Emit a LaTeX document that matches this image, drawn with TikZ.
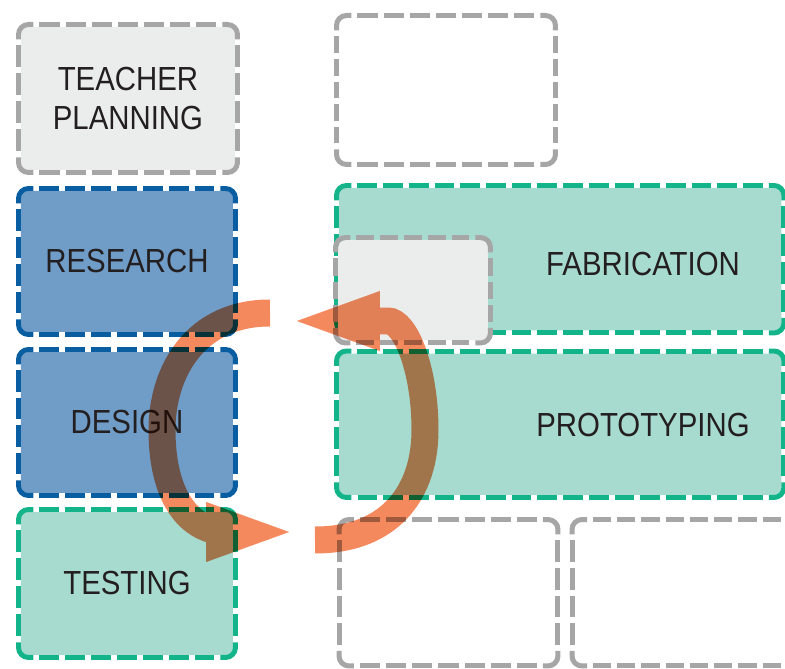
\documentclass[tikz,border=0pt]{standalone}
\usepackage{fontspec}
\setmainfont{Liberation Sans}[FakeStretch=0.88]
\usetikzlibrary{arrows.meta}
\definecolor{graybd}{RGB}{166,166,166}
\definecolor{grayfill}{RGB}{235,237,236}
\definecolor{bluefill}{RGB}{112,156,200}
\definecolor{bluebd}{RGB}{8,94,160}
\definecolor{tealfill}{RGB}{168,219,207}
\definecolor{tealbd}{RGB}{19,180,138}
\definecolor{arrowc}{RGB}{245,137,94}
\definecolor{txt}{RGB}{35,31,32}
\pgfdeclarelayer{bg}
\pgfsetlayers{bg,main}
% fill and dashed border (solid corners) of a box node: name, border, fill, width (cm), height (cm)
\newcommand\boxdeco[5]{%
\pgfmathsetmacro\bxhn{max(1,round((#4-0.72)/0.5))}%
\pgfmathsetmacro\bxhd{(#4-0.72)/\bxhn-0.12}%
\pgfmathsetmacro\bxvn{max(1,round((#5-0.72)/0.5))}%
\pgfmathsetmacro\bxvd{(#5-0.72)/\bxvn-0.12}%
\begin{pgfonlayer}{bg}
\fill[#3, rounded corners=0.15cm] ([shift={(0.05cm,-0.05cm)}]#1.north west) rectangle ([shift={(-0.05cm,0.05cm)}]#1.south east);
\draw[bd, draw=#2, rounded corners=0.2cm] ([yshift=-0.3cm]#1.north west) -- (#1.north west) -- ([xshift=0.3cm]#1.north west);
\draw[bd, draw=#2, rounded corners=0.2cm] ([xshift=-0.3cm]#1.north east) -- (#1.north east) -- ([yshift=-0.3cm]#1.north east);
\draw[bd, draw=#2, rounded corners=0.2cm] ([yshift=0.3cm]#1.south east) -- (#1.south east) -- ([xshift=-0.3cm]#1.south east);
\draw[bd, draw=#2, rounded corners=0.2cm] ([xshift=0.3cm]#1.south west) -- (#1.south west) -- ([yshift=0.3cm]#1.south west);
\draw[bd, draw=#2, dash pattern=on \bxhd cm off 0.12cm] ([xshift=0.42cm]#1.north west) -- ([xshift=-0.42cm]#1.north east);
\draw[bd, draw=#2, dash pattern=on \bxvd cm off 0.12cm] ([yshift=-0.42cm]#1.north east) -- ([yshift=0.42cm]#1.south east);
\draw[bd, draw=#2, dash pattern=on \bxhd cm off 0.12cm] ([xshift=-0.42cm]#1.south east) -- ([xshift=0.42cm]#1.south west);
\draw[bd, draw=#2, dash pattern=on \bxvd cm off 0.12cm] ([yshift=0.42cm]#1.south west) -- ([yshift=-0.42cm]#1.north west);
\end{pgfonlayer}}
\begin{document}
\begin{tikzpicture}[x=0.02cm,y=-0.02cm,
  bd/.style={line width=0.1cm},
  box/.style={inner sep=0pt, outer sep=0pt, anchor=north west,
    font=\fontsize{19}{22}\selectfont, text=txt, align=center},
  lbl/.style={font=\fontsize{19}{22}\selectfont, text=txt, inner sep=0pt},
  cyc/.style={draw=arrowc, line width=0.54cm,
    -{Triangle[width=1.2cm, length=1.66cm, line width=0.1pt]}}
]
\useasboundingbox (0,0) rectangle (785,669);
\clip (0,0) rectangle (785,669);

% left column
\node[box, minimum width=4.38cm, minimum height=2.96cm] (plan) at (18.5,24.5) {TEACHER\\PLANNING};
\node[box, minimum width=4.34cm, minimum height=2.92cm] (research) at (18.5,188.5) {RESEARCH};
\node[box, minimum width=4.34cm, minimum height=2.92cm] (design) at (18.5,349.5) {DESIGN};
\node[box, minimum width=4.34cm, minimum height=2.96cm] (testing) at (18.5,509.5) {TESTING};
% right side
\node[box, minimum width=4.38cm, minimum height=2.98cm] (topr) at (336.5,15.5) {};
\node[box, minimum width=8.95cm, minimum height=2.95cm] (fab) at (336.5,185.5) {};
\node[box, minimum width=8.95cm, minimum height=2.93cm] (proto) at (336.5,351) {};
\node[box, minimum width=3.1cm, minimum height=2.11cm] (small) at (335.5,237.5) {};
\node[box, minimum width=4.38cm, minimum height=2.93cm] (botl) at (339,519.5) {};
\node[box, minimum width=4.6cm, minimum height=2.93cm] (botr) at (572,519.5) {};

\boxdeco{plan}{graybd}{grayfill}{4.38}{2.96}
\boxdeco{research}{bluebd}{bluefill}{4.34}{2.92}
\boxdeco{design}{bluebd}{bluefill}{4.34}{2.92}
\boxdeco{testing}{tealbd}{tealfill}{4.34}{2.96}
\boxdeco{topr}{graybd}{white}{4.38}{2.98}
\boxdeco{fab}{tealbd}{tealfill}{8.95}{2.95}
\boxdeco{proto}{tealbd}{tealfill}{8.95}{2.93}
\boxdeco{small}{graybd}{grayfill}{3.1}{2.11}
\boxdeco{botl}{graybd}{white}{4.38}{2.93}
\boxdeco{botr}{graybd}{white}{4.6}{2.93}

\node[lbl] (fabtxt) at (643,264) {FABRICATION};
\node[lbl] (prototxt) at (643,425) {PROTOTYPING};

% cycle arrows
\coordinate (lt) at (270,313);
\coordinate (lh) at (289,532);
\coordinate (rt) at (315,540);
\coordinate (rh) at (297,321);
\begin{scope}[blend mode=multiply]
\begin{scope}[transparency group]
\draw[cyc] (lt) .. controls (195,313) and (162,372) .. (162,430)
  .. controls (162,495) and (188,532) .. (228,532) -- (lh);
\draw[cyc] (rt) .. controls (392,540) and (425,490) .. (425,430)
  .. controls (425,368) and (405,321) .. (388,321) -- (rh);
\end{scope}
\end{scope}
\end{tikzpicture}
\end{document}
